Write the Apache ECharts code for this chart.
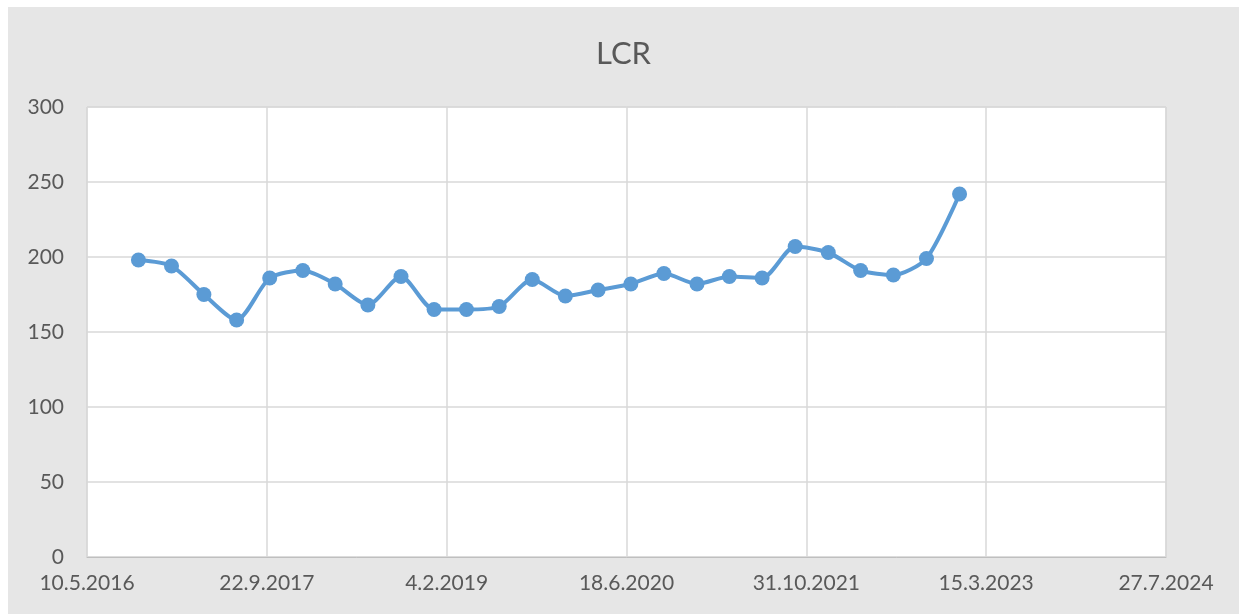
<!DOCTYPE html>
<html>
<head>
<meta charset="utf-8">
<script src="https://cdn.jsdelivr.net/npm/echarts@6/dist/echarts.min.js"></script>
<style>
  html, body { margin: 0; padding: 0; background: #fff; }
  #container { position: absolute; left: 8px; top: 7px; width: 1231px; height: 607px; background: #e6e6e6; }
</style>
</head>
<body>
<div id="container"></div>
<script>
// quarter-end dates and LCR values (%)
let dates = [
    '2016-09-30','2016-12-31','2017-03-31','2017-06-30','2017-09-30','2017-12-31',
    '2018-03-31','2018-06-30','2018-09-30','2018-12-31','2019-03-31','2019-06-30',
    '2019-09-30','2019-12-31','2020-03-31','2020-06-30','2020-09-30','2020-12-31',
    '2021-03-31','2021-06-30','2021-09-30','2021-12-31','2022-03-31','2022-06-30',
    '2022-09-30','2022-12-31'
];
let lcr = [
    198, 194, 175, 158, 186, 191,
    182, 168, 187, 165, 165, 167,
    185, 174, 178, 182, 189, 182,
    187, 186, 207, 203, 191, 188,
    199, 242
];
let axisStart = '2016-05-10';
let axisEnd = '2024-07-27';
let yTicks = [0, 50, 100, 150, 200, 250, 300];

const DAY = 86400000;
function toUtc(s) {
    let p = s.split('-');
    return Date.UTC(+p[0], +p[1] - 1, +p[2]);
}
let origin = toUtc(axisStart);
// x positions as days since the first axis tick
function dayOffset(s) { return Math.round((toUtc(s) - origin) / DAY); }

let dom = document.getElementById("container");
let myChart = echarts.init(dom);
let font = 'Lato, "Open Sans", sans-serif';

option = {
    animation: false,
    title: {
        text: 'LCR',
        left: 'center',
        top: 26,
        textStyle: { fontFamily: font, fontSize: 31, fontWeight: 'normal', color: '#595959' }
    },
    grid: {
        left: 79, right: 73, top: 100, bottom: 57,
        show: true,
        backgroundColor: '#ffffff',
        borderColor: '#d0d0d0',
        borderWidth: 1
    },
    xAxis: {
        type: 'value',
        min: 0,
        max: dayOffset(axisEnd),
        interval: 500,
        axisLine: { show: true, lineStyle: { color: '#bfbfbf', width: 1 } },
        axisTick: { show: false },
        splitLine: { show: true, lineStyle: { color: '#d9d9d9', width: 1.5 } },
        axisLabel: {
            margin: 16,
            fontFamily: font,
            fontSize: 21,
            color: '#595959',
            formatter: function (v) {
                let d = new Date(origin + v * DAY);
                return d.getUTCDate() + '.' + (d.getUTCMonth() + 1) + '.' + d.getUTCFullYear();
            }
        }
    },
    yAxis: {
        type: 'value',
        min: yTicks[0],
        max: yTicks[yTicks.length - 1],
        interval: yTicks[1] - yTicks[0],
        axisLine: { show: false },
        axisTick: { show: false },
        splitLine: { show: true, lineStyle: { color: '#d9d9d9', width: 1.5 } },
        axisLabel: { margin: 23, fontFamily: font, fontSize: 21, color: '#595959' }
    },
    series: [
        {
            name: 'LCR',
            type: 'line',
            smooth: 0.25,
            symbol: 'circle',
            symbolSize: 15,
            itemStyle: { color: '#5b9bd5' },
            lineStyle: { color: '#5b9bd5', width: 4 },
            data: dates.map(function (d, i) { return [dayOffset(d), lcr[i]]; })
        }
    ]
};
myChart.setOption(option, true);
</script>
</body>
</html>
